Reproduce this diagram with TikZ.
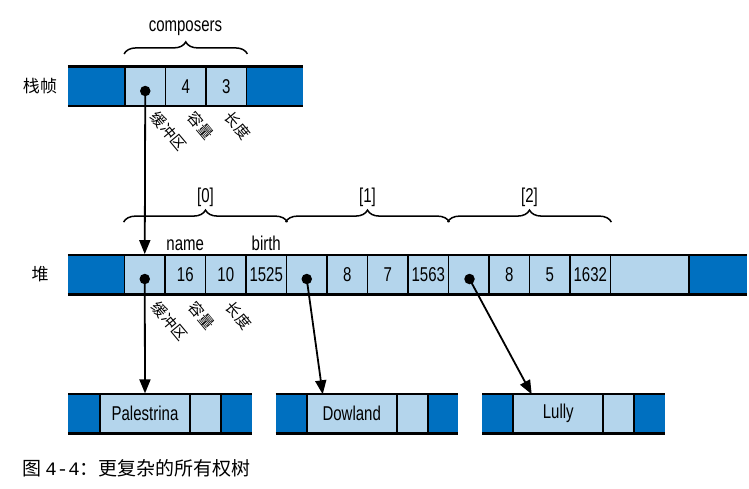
\documentclass[tikz,border=0pt]{standalone}
\usepackage{fontspec}
\setmainfont{Liberation Sans}[FakeStretch=0.75]
\newfontfamily\cjk{Noto Sans CJK SC}
\newfontfamily\monof{Liberation Mono}
\usetikzlibrary{arrows.meta,decorations.pathreplacing}
\definecolor{dkblue}{RGB}{0,112,192}
\definecolor{ltblue}{RGB}{180,213,236}
\begin{document}
\begin{tikzpicture}[x=1pt,y=-1pt,
  cell/.style={draw=black, line width=1.8pt, fill=ltblue, minimum height=39pt, minimum width=40.5pt, inner sep=0pt, font=\fontsize{20}{20}\selectfont},
  endbox/.style={fill=dkblue, minimum height=39pt, inner sep=0pt, draw=none},
  rail/.style={line width=2.6pt, line cap=butt},
  dotn/.style={circle, fill=black, inner sep=0pt, minimum size=10.5pt},
  ptr/.style={line width=1.8pt, -{Triangle[length=14pt,width=11pt]}},
  lbl/.style={font=\fontsize{20}{20}\selectfont, inner sep=0pt},
  cjkl/.style={font=\cjk\fontsize{17}{17}\selectfont, inner sep=0pt},
  rot/.style={font=\cjk\fontsize{15}{15}\selectfont, rotate=-50, anchor=west, inner sep=0pt},
  br/.style={line width=1.5pt, decorate, decoration={brace, amplitude=12pt}}
]
\useasboundingbox (0,0) rectangle (749,488);

% ---------- stack frame ----------
\node[cjkl] (lstack) at (40,86) {栈帧};
\node[endbox, minimum width=57pt] (sL) at (96.5,86.3) {};
\node[endbox, minimum width=56.5pt] (sR) at (274.75,86.3) {};
\node[cell] (s0) at (145.25,86.3) {};
\node[cell] (s1) at (185.75,86.3) {4};
\node[cell] (s2) at (226.25,86.3) {3};
\draw[rail] (sL.north west) -- (sR.north east);
\draw[rail] (sL.south west) -- (sR.south east);
\node[dotn] (sd) at (145.25,91) {};
\draw[br] ([yshift=12pt]s0.north west) -- ([yshift=12pt]s2.north east);
\node[lbl] (comp) at (185.5,28) {composers};
\node[rot] (sl1) at (154,114) {缓冲区};
\node[rot] (sl2) at (191,114) {容量};
\node[rot] (sl3) at (228,114) {长度};

% ---------- heap ----------
\node[cjkl] (lheap) at (40,274.5) {堆};
\node[endbox, minimum width=56.5pt] (hL) at (96.25,274.5) {};
\node[endbox, minimum width=57.7pt] (hR) at (718.15,274.5) {};
\node[cell, minimum width=78.8pt] (hB) at (649.9,274.5) {};
\foreach \k/\t in {0/,1/16,2/10,3/1525,4/,5/8,6/7,7/1563,8/,9/8,10/5,11/1632}{
  \node[cell] (h\k) at ({144.75+40.5*\k},274.5) {\t};
}
\draw[rail] (hL.north west) -- (hR.north east);
\draw[rail] (hL.south west) -- (hR.south east);
\node[dotn] (hd0) at (144.75,279) {};
\node[dotn] (hd4) at (306.75,279) {};
\node[dotn] (hd8) at (469.5,279) {};
\node[lbl, anchor=base] (nm) at (185.25,250) {name};
\node[lbl, anchor=base] (bt) at (266.25,250) {birth};
\draw[br] ([yshift=32pt]h0.north west) -- ([yshift=32pt]h3.north east);
\draw[br] ([yshift=32pt]h4.north west) -- ([yshift=32pt]h7.north east);
\draw[br] ([yshift=32pt]h8.north west) -- ([yshift=32pt]h11.north east);
\node[lbl] (i0) at (205.5,197) {[0]};
\node[lbl] (i1) at (367.5,197) {[1]};
\node[lbl] (i2) at (529.5,197) {[2]};
\node[rot] (hl1) at (155,304) {缓冲区};
\node[rot] (hl2) at (192,304) {容量};
\node[rot] (hl3) at (229,304) {长度};

% ---------- strings ----------
\node[endbox, minimum width=31.7pt] (aL) at (84.15,413.8) {};
\node[endbox, minimum width=30.7pt] (aR) at (236.35,413.8) {};
\node[cell, minimum width=90pt] (aN) at (145,413.8) {Palestrina};
\node[cell, minimum width=31pt] (aS) at (205.5,413.8) {};
\draw[rail] (aL.north west) -- (aR.north east);
\draw[rail] (aL.south west) -- (aR.south east);

\node[endbox, minimum width=31pt] (bL) at (291.2,413.8) {};
\node[endbox, minimum width=30.3pt] (bR) at (442.85,413.8) {};
\node[cell, minimum width=90pt] (bN) at (351.7,413.8) {Dowland};
\node[cell, minimum width=31pt] (bS) at (412.2,413.8) {};
\draw[rail] (bL.north west) -- (bR.north east);
\draw[rail] (bL.south west) -- (bR.south east);

\node[endbox, minimum width=31pt] (cL) at (497.8,413.8) {};
\node[endbox, minimum width=30.7pt] (cR) at (649.65,413.8) {};
\node[cell, minimum width=90pt] (cN) at (558.3,413.8) {Lully};
\node[cell, minimum width=31pt] (cS) at (618.8,413.8) {};
\draw[rail] (cL.north west) -- (cR.north east);
\draw[rail] (cL.south west) -- (cR.south east);

% ---------- pointers ----------
\coordinate (t2) at (322.7,394.3);
\coordinate (t3) at (531.7,394.3);
\draw[ptr] (sd.center) -- (h0.north);
\draw[ptr] (hd0.center) -- (aN.north);
\draw[ptr] (hd4.center) -- (t2);
\draw[ptr] (hd8.center) -- (t3);

% ---------- caption ----------
\node[anchor=west, inner sep=0pt, font=\cjk\fontsize{19}{19}\selectfont] (cap) at (22,468) {图 {\monof 4-4}：更复杂的所有权树};
\end{tikzpicture}
\end{document}
